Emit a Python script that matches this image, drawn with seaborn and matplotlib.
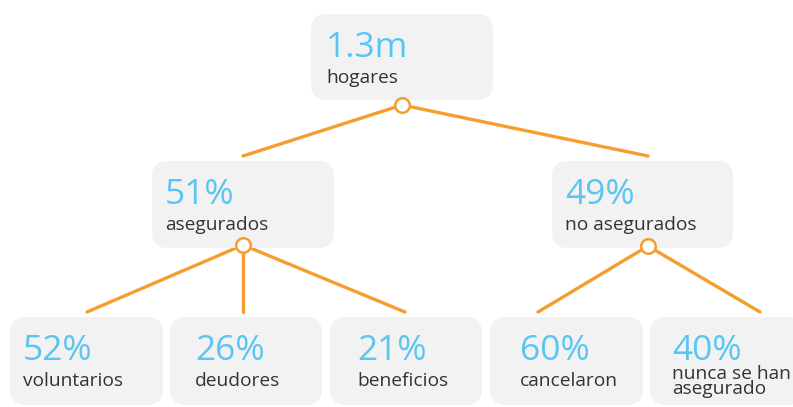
import matplotlib.pyplot as plt
from matplotlib.patches import FancyBboxPatch
import pandas as pd
import seaborn as sns

# tree data
values = ["1.3m", "51%", "49%", "52%", "26%", "21%", "60%", "40%"]
labels = ["hogares", "asegurados", "no asegurados", "voluntarios", "deudores",
          "beneficios", "cancelaron", "nunca se han\nasegurado"]
parents = [-1, 0, 0, 1, 1, 1, 2, 2]

# layout, in pixels with y pointing down
box_left = [311, 152, 552, 10, 170, 330, 490, 650]
box_top = [14, 161, 161, 317, 317, 317, 317, 317]
box_w = [182, 182, 181, 153, 152, 152, 153, 153]
box_h = [86, 87, 87, 88, 88, 88, 88, 88]
text_dx = [15, 13, 13, 13, 25, 27, 30, 22]
anchor_x = [402, 243, 648, 87, 243, 405, 538, 760]
knot_y = [105, 245, 246]

ORANGE = "#f59d2f"
BLUE = "#5ac5f2"
DARK = "#333333"
BOX = "#f2f2f2"

sns.set_theme(style="white")
plt.rcParams["font.family"] = ["Open Sans", "DejaVu Sans"]

fig = plt.figure(figsize=(7.93, 4.07), dpi=100)
ax = fig.add_axes([0, 0, 1, 1])
ax.set_xlim(0, 793)
ax.set_ylim(407, 0)
ax.axis("off")

# edges from each parent knot to the top of the child box
edges = []
for i, p in enumerate(parents):
    if p < 0:
        continue
    edges.append({"edge": i, "x": anchor_x[p], "y": knot_y[p]})
    edges.append({"edge": i, "x": anchor_x[i], "y": box_top[i] - 5})
edges = pd.DataFrame(edges)
sns.lineplot(data=edges, x="x", y="y", units="edge", estimator=None,
             sort=False, color=ORANGE, linewidth=2.4, ax=ax, zorder=1)

# boxes and texts
for i in range(len(values)):
    ax.add_patch(FancyBboxPatch(
        (box_left[i] + 16, box_top[i] + 16), box_w[i] - 32, box_h[i] - 32,
        boxstyle="round,pad=16", facecolor=BOX, edgecolor="none", zorder=2))
    tx = box_left[i] + text_dx[i]
    ax.text(tx, box_top[i] + 43, values[i], color=BLUE, fontsize=25.5,
            va="baseline", ha="left", zorder=3)
    if "\n" in labels[i]:
        # two-line label, tight spacing as in the original
        ax.text(tx, box_top[i] + 81, labels[i], color=DARK, fontsize=13.8,
                va="bottom", ha="left", linespacing=0.8, zorder=3)
    else:
        ax.text(tx, box_top[i] + 69, labels[i], color=DARK, fontsize=13.8,
                va="baseline", ha="left", zorder=3)

# knots on parents
knots = pd.DataFrame({"x": [anchor_x[p] for p in sorted(set(parents)) if p >= 0],
                      "y": knot_y})
sns.scatterplot(data=knots, x="x", y="y", s=110, color="white",
                edgecolor=ORANGE, linewidth=1.8, ax=ax, zorder=4)
ax.set_xlabel("")
ax.set_ylabel("")

fig.savefig("out.png", dpi=100)
